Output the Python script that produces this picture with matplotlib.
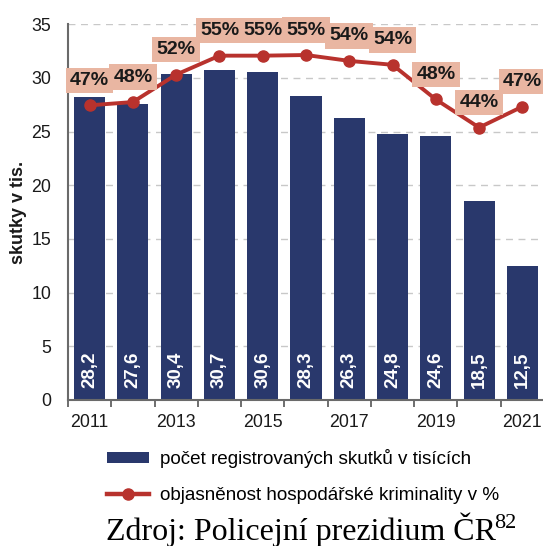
import matplotlib
matplotlib.use("Agg")
import matplotlib.pyplot as plt
from matplotlib.lines import Line2D
from matplotlib.patches import Patch

years = [2011, 2012, 2013, 2014, 2015, 2016, 2017, 2018, 2019, 2020, 2021]
cases = [28.2, 27.6, 30.4, 30.7, 30.6, 28.3, 26.3, 24.8, 24.6, 18.5, 12.5]
clearance = [47.4, 47.9, 52.1, 55.0, 55.0, 55.1, 54.2, 53.6, 48.3, 44.0, 47.2]
tick_years = [2011, 2013, 2015, 2017, 2019, 2021]
bar_label = "počet registrovaných skutků v tisících"
line_label = "objasněnost hospodářské kriminality v %"
ylabel = "skutky v tis."
source = "Zdroj: Policejní prezidium ČR"
source_note = "82"

BAR = "#29386C"
RED = "#B8322D"
BOX = "#E9B6A2"

plt.rcParams['font.family'] = ['Liberation Sans', 'DejaVu Sans']

fig = plt.figure(figsize=(5.43, 5.46), dpi=100)
W, H = 543, 546
ax = fig.add_axes([68 / W, 1 - 400 / H, (544 - 68) / W, (400 - 24.3) / H])

x = list(range(len(years)))
ax.bar(x, cases, width=0.72, color=BAR, zorder=2)
for xi, v in zip(x, cases):
    ax.text(xi, 1.15, f"{v:.1f}".replace(".", ","), rotation=90, ha="center", va="bottom",
            color="white", fontsize=13.5, fontweight="bold", zorder=3)

ax.set_ylim(0, 35)
ax.set_xlim(-0.5, len(years) - 0.5)
ax.set_yticks(range(0, 36, 5))
ax.yaxis.grid(True, linestyle=(0, (5, 4)), color="#C8C8C8", linewidth=1, zorder=0)
ax.set_axisbelow(True)
ax.tick_params(axis="y", length=0, pad=12, labelsize=12.8, labelcolor="#1a1a1a")

ax.set_xticks([i - 0.5 for i in range(len(years) + 1)])
ax.set_xticklabels([])
ax.tick_params(axis="x", which="major", length=5, width=1.2, color="#555555")
ax.set_xticks([years.index(y) for y in tick_years], minor=True)
ax.set_xticklabels([str(y) for y in tick_years], minor=True)
ax.tick_params(axis="x", which="minor", length=0, pad=10, labelsize=12.8, labelcolor="#1a1a1a")

for s in ["top", "right"]:
    ax.spines[s].set_visible(False)
for s in ["left", "bottom"]:
    ax.spines[s].set_color("#6a6a6a")
    ax.spines[s].set_linewidth(1.5)

ax2 = ax.twinx()
ax2.set_ylim(2.3, 59.8)
ax2.set_xlim(ax.get_xlim())
ax2.axis("off")
ax2.plot(x, clearance, color=RED, linewidth=2.8, marker="o", markersize=8, zorder=4)
for xi, p in zip(x, clearance):
    ax2.annotate(f"{round(p):d}%", (xi, p), xytext=(0, 18), textcoords="offset points",
                 ha="center", va="center", fontsize=14, fontweight="bold", color="#1a1a1a",
                 bbox=dict(boxstyle="square,pad=0.22", facecolor=BOX, edgecolor="none"),
                 annotation_clip=False, zorder=5)

fig.text(19 / W, 1 - 212 / H, ylabel, rotation=90, ha="center", va="center",
         fontsize=13, fontweight="bold", color="#1a1a1a")

handles = [Patch(facecolor=BAR, edgecolor="none"),
           Line2D([], [], color=RED, linewidth=3.2, marker="o", markersize=8)]
fig.legend(handles, [bar_label, line_label], loc="upper left",
           bbox_to_anchor=(107 / W, 1 - 449 / H), frameon=False, fontsize=13.6,
           handlelength=2.2, handleheight=0.5, handletextpad=0.6, labelspacing=1.0,
           borderpad=0, borderaxespad=0)

fig.text(106 / W, 1 - 540 / H, source, ha="left", va="baseline",
         fontsize=23, family="Liberation Serif", color="black")
fig.text(494 / W, 1 - 528 / H, source_note, ha="left", va="baseline",
         fontsize=16, family="Liberation Serif", color="black")

fig.savefig("out.png", dpi=100)
